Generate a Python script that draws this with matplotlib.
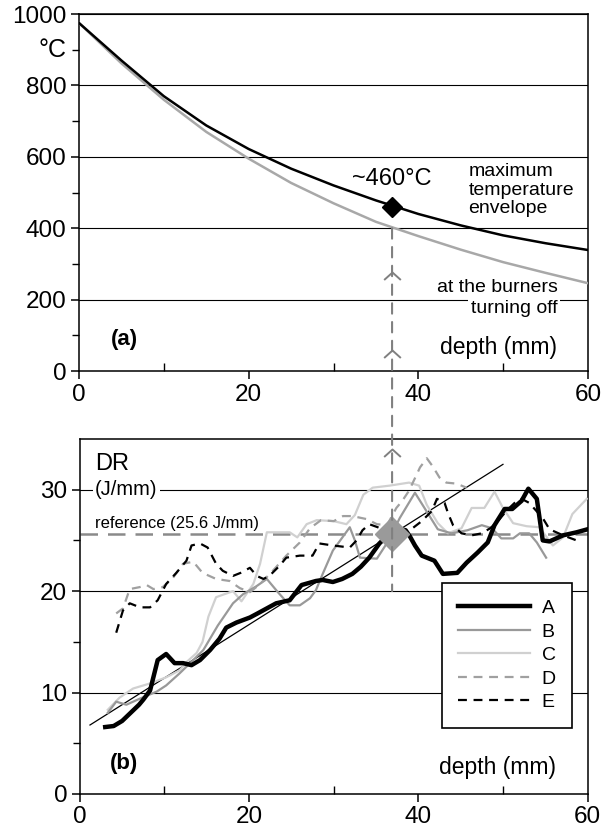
import matplotlib.pyplot as plt
from matplotlib.patches import ConnectionPatch
from matplotlib.path import Path

plt.rcParams['font.family'] = ['Liberation Sans', 'DejaVu Sans']

# (a) temperature profiles
depth_env = [0, 5, 10, 15, 20, 25, 30, 35, 40, 45, 50, 55, 60]
t_max = [975, 870, 770, 688, 622, 567, 520, 478, 440, 408, 380, 358, 339]
t_off = [975, 862, 760, 670, 595, 527, 470, 418, 378, 340, 305, 275, 246]

# (b) drilling resistance
A_x = [3, 4, 5, 6, 7, 7.5, 8.3, 9.2, 10.2, 11.2, 12.2, 13.2, 14.2, 15.4, 16.5, 17.3, 18.5, 20.1, 21, 22.1,
       23.2, 24.8, 26.2, 27.9, 28.7, 29.9, 31, 32.2, 33.2, 34.2, 35.4, 36.5, 37.5, 38.5, 39.0, 39.6, 40.4,
       41.9, 42.9, 44.6, 45.7, 47, 48.2, 49, 50.2, 51.1, 52.2, 53, 54, 54.7, 55.5, 57.1, 58.7, 60]
A_y = [6.6, 6.7, 7.2, 8.0, 8.8, 9.3, 10.2, 13.2, 13.8, 12.9, 12.9, 12.7, 13.2, 14.2, 15.3, 16.4, 16.9, 17.4, 17.8, 18.3,
       18.8, 19.1, 20.6, 21.0, 21.1, 20.9, 21.2, 21.7, 22.4, 23.3, 24.7, 25.6, 26.2, 26.0, 25.4, 24.5, 23.5,
       23.0, 21.7, 21.8, 22.8, 23.8, 24.8, 26.5, 28.1, 28.1, 28.9, 30.1, 29.1, 25.0, 24.9, 25.5, 25.8, 26.1]

B_x = [3.3, 4.3, 5.5, 7.1, 9.1, 10.2, 11.8, 13.4, 14.6, 16.3, 18.1, 19.3, 20.9, 22.1, 23.4, 24.8, 26, 27.2, 27.9,
       28.7, 29.9, 31.9, 32.5, 33.1, 35.1, 36.5, 37.8, 39.6, 41.1, 42.3, 43.9, 45.8, 47.5, 48.7, 49.8, 51.2,
       52, 53.1, 54, 55.1]
B_y = [8.0, 9.1, 8.8, 9.4, 10.1, 10.7, 11.9, 13.2, 14.2, 16.6, 18.8, 19.7, 20.5, 21.2, 19.9, 18.6, 18.6, 19.3, 20.1,
       21.7, 24.0, 26.3, 25.0, 23.3, 23.2, 25.0, 27.2, 29.7, 27.7, 26.1, 25.7, 26.0, 26.5, 26.2, 25.2, 25.2,
       25.7, 25.7, 24.8, 23.3]

C_x = [3.3, 4.7, 6.3, 8.3, 10.2, 11.8, 12.6, 13.8, 14.5, 15.2, 16.1, 18.1, 19.1, 20.5, 21.3, 22.1, 24.8, 25.7,
       26.8, 28, 30, 31.5, 32.5, 33.5, 34.6, 36.6, 38.9, 40.1, 41, 42.3, 43.5, 45.1, 46.3, 47.8, 49, 50, 51.2,
       52.8, 54.3, 55.9, 57.1, 58.2, 59.9]
C_y = [8.3, 9.5, 10.4, 10.9, 11.5, 12.2, 13.0, 13.9, 15.0, 17.5, 19.4, 20.0, 19.0, 20.7, 22.7, 25.8, 25.8, 25.3,
       26.6, 27.0, 26.9, 26.6, 27.5, 29.5, 30.2, 30.4, 30.7, 30.4, 28.5, 26.7, 25.7, 26.2, 28.2, 28.2, 29.8, 28.2, 26.7,
       26.4, 26.3, 24.5, 25.3, 27.6, 29.1]

D_x = [4.3, 5.1, 5.9, 7.1, 7.9, 8.7, 9.8, 11, 12.2, 13.4, 14.5, 16.1, 17.7, 18.9, 20.1, 21.3, 22.8, 24.4, 26,
       27.2, 28.5, 30, 31.1, 32.2, 33.9, 35.1, 36.3, 37.4, 38.1, 38.9, 40.2, 41, 41.7, 42.5, 43.3, 44.5, 45.7]
D_y = [17.8, 18.3, 20.2, 20.4, 20.6, 20.2, 20.4, 21.3, 22.7, 22.9, 21.8, 21.2, 21.0, 20.3, 19.9, 20.7, 22.0, 23.5, 24.8,
       26.2, 27.0, 26.9, 27.4, 27.4, 27.1, 26.6, 26.5, 28.2, 28.9, 29.9, 32.2, 33.1, 32.3, 31.2, 30.7, 30.6, 30.2]

E_x = [4.3, 5.1, 5.9, 7.1, 8.3, 9.2, 10.2, 11.4, 12.6, 13.2, 14.2, 15.1, 16.1, 16.9, 18.1, 19.0, 20.1, 20.9, 21.7,
       22.4, 23.6, 24.4, 26, 27.5, 28.3, 29.9, 31.9, 32.7, 33.4, 34.2, 35.2, 36.5, 38, 39, 40.4, 41.6, 42.2, 43.1,
       43.5, 44.1, 45.1, 46.3, 47.5, 48.5, 49.5, 50.5, 51.5, 52.2, 53.1, 54.7, 55.5, 57.1, 58.7, 59.3]
E_y = [15.9, 18.1, 18.8, 18.4, 18.4, 19.1, 20.7, 21.8, 23.0, 24.5, 24.7, 24.3, 22.7, 22.0, 21.5, 21.8, 22.3, 21.5, 21.2,
       21.5, 22.5, 23.3, 23.5, 23.5, 24.7, 24.5, 24.3, 25.0, 26.0, 26.6, 26.3, 25.8, 25.6, 26.0, 26.9, 27.9, 29.1, 28.7,
       27.7, 26.5, 25.7, 25.5, 25.7, 26.2, 27.0, 28.0, 28.8, 29.1, 28.7, 27.2, 26.1, 25.5, 25.0, 24.8]

fit_x = [1.2, 50]
fit_y = [6.8, 32.5]

ref_dr = 25.6
crit_depth = 36.9
crit_temp = 460
arrow_temps = [277, 59]
arrow_dr = 34.0

fig = plt.figure(figsize=(6.14, 8.30), dpi=100)
ax1 = fig.add_axes([0.1287, 0.553, 0.829, 0.430])
ax2 = fig.add_axes([0.130, 0.0434, 0.827, 0.4277])

# open arrow head used on the dashed guide
chevron = Path([(-1, -0.9), (0, 0), (1, -0.9)], [Path.MOVETO, Path.LINETO, Path.LINETO])


def style_axes(ax, ymax, ymajor, yminor):
    ax.set_xlim(0, 60)
    ax.set_ylim(0, ymax)
    ax.set_xticks([0, 20, 40, 60])
    ax.set_xticks([10, 30, 50], minor=True)
    ax.set_yticks(ymajor)
    ax.set_yticks(yminor, minor=True)
    ax.tick_params(axis='both', which='major', direction='out', length=6, width=1.1, labelsize=17.5, pad=3)
    ax.tick_params(axis='y', which='minor', direction='out', length=5, width=1.0)
    ax.tick_params(axis='x', which='minor', direction='in', length=6, width=1.0)
    for s in ax.spines.values():
        s.set_linewidth(1.1)
    for v in ymajor[1:]:
        ax.axhline(v, color='black', lw=0.8, zorder=1)


# ---- (a) ----
style_axes(ax1, 1000, [0, 200, 400, 600, 800, 1000], list(range(100, 1000, 200)))
ax1.plot(depth_env, t_off, color='#a8a8a8', lw=1.8, zorder=3)
ax1.plot(depth_env, t_max, color='black', lw=1.8, zorder=4)
ax1.plot([crit_depth], [crit_temp], marker='D', ms=10, color='black', zorder=5)
ax1.plot([crit_depth] * len(arrow_temps), arrow_temps, linestyle='none', marker=chevron, ms=12,
         mfc='none', mec='#808080', mew=1.4, zorder=5)

ax1.text(-0.024, 900, '°C', transform=ax1.get_yaxis_transform(), ha='right', va='center', fontsize=18)
ax1.text(3.7, 87, '(a)', fontsize=16, fontweight='bold', va='center')
ax1.text(56.4, 67, 'depth (mm)', fontsize=16.5, ha='right', va='center')
ax1.text(crit_depth, 538, '~460°C', fontsize=17, ha='center', va='center')
ax1.text(45.9, 507, 'maximum\ntemperature\nenvelope', fontsize=14, ha='left', va='center', linespacing=1.1)
ax1.text(56.4, 235, 'at the burners', fontsize=14, ha='right', va='center')
ax1.text(56.4, 176, 'turning off', fontsize=14, ha='right', va='center', zorder=3,
         bbox=dict(facecolor='white', edgecolor='none', pad=2))

# ---- (b) ----
style_axes(ax2, 35, [0, 10, 20, 30], [5, 15, 25])
ax2.axhline(ref_dr, color='#8a8a8a', lw=1.8, dashes=(7, 4), zorder=2)
ax2.plot(fit_x, fit_y, color='black', lw=0.9, zorder=3)
ax2.plot(C_x, C_y, color='#d0d0d0', lw=1.6, label='C', zorder=3)
ax2.plot(B_x, B_y, color='#999999', lw=1.6, label='B', zorder=3)
ax2.plot(D_x, D_y, color='#a0a0a0', lw=1.6, dashes=(4, 3), label='D', zorder=3)
ax2.plot(E_x, E_y, color='black', lw=1.6, dashes=(4, 3), label='E', zorder=3)
ax2.plot(A_x, A_y, color='black', lw=3.2, label='A', zorder=4)
ax2.plot([crit_depth], [ref_dr], marker='D', ms=17, color='#9a9a9a', zorder=6)
ax2.plot([crit_depth], [arrow_dr], linestyle='none', marker=chevron, ms=12,
         mfc='none', mec='#808080', mew=1.4, zorder=5)

ax2.text(1.8, 32.5, 'DR', fontsize=17, va='center')
ax2.text(1.8, 30, '(J/mm)', fontsize=14.5, va='center', zorder=3,
         bbox=dict(facecolor='white', edgecolor='none', pad=1.5))
ax2.text(1.8, 25.9, 'reference (25.6 J/mm)', fontsize=12, va='bottom')
ax2.text(3.5, 3.0, '(b)', fontsize=16, fontweight='bold', va='center')
ax2.text(56.3, 2.65, 'depth (mm)', fontsize=16.5, ha='right', va='center')

handles, labels = ax2.get_legend_handles_labels()
order = [labels.index(k) for k in ['A', 'B', 'C', 'D', 'E']]
leg = ax2.legend([handles[i] for i in order], [labels[i] for i in order],
                 loc='upper right', bbox_to_anchor=(0.97, 0.594), fontsize=14,
                 fancybox=False, framealpha=1, edgecolor='black', handlelength=3.7,
                 handletextpad=0.6, labelspacing=0.3, borderpad=0.85, borderaxespad=0)
leg.get_frame().set_linewidth(1.2)
leg.set_zorder(7)

# dashed guide linking (a) and (b)
con = ConnectionPatch(xyA=(crit_depth, 400), coordsA=ax1.transData,
                      xyB=(crit_depth, 20), coordsB=ax2.transData,
                      color='#808080', lw=1.5, linestyle=(0, (5, 4)), zorder=5)
fig.add_artist(con)

plt.savefig('out.png', dpi=100)
